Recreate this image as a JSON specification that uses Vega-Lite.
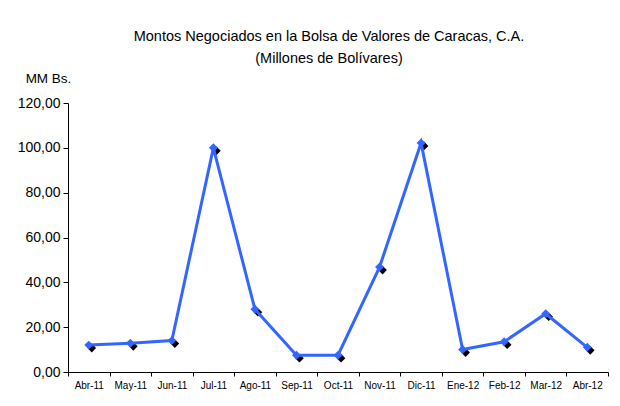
{
  "$schema": "https://vega.github.io/schema/vega-lite/v6.json",
  "width": 540,
  "height": 269,
  "autosize": {"type": "none"},
  "padding": {"left": 68, "top": 103, "right": 12, "bottom": 34},
  "background": "white",
  "config": {
    "font": "Liberation Sans",
    "view": {"stroke": null},
    "axis": {"domainColor": "black", "tickColor": "black", "labelColor": "black", "titleColor": "black", "grid": false}
  },
  "title": {
    "text": ["Montos Negociados en la Bolsa de Valores de Caracas, C.A.", "(Millones de Bolívares)"],
    "anchor": "middle",
    "fontSize": 14.5,
    "fontWeight": "normal",
    "color": "black",
    "lineHeight": 22,
    "dx": -9,
    "offset": 5
  },
  "data": {
    "values": [
      {"mes": "Abr-11", "monto": 12.0},
      {"mes": "May-11", "monto": 12.8},
      {"mes": "Jun-11", "monto": 14.0},
      {"mes": "Jul-11", "monto": 100.0},
      {"mes": "Ago-11", "monto": 28.0},
      {"mes": "Sep-11", "monto": 7.5},
      {"mes": "Oct-11", "monto": 7.5},
      {"mes": "Nov-11", "monto": 46.8},
      {"mes": "Dic-11", "monto": 102.2},
      {"mes": "Ene-12", "monto": 10.0},
      {"mes": "Feb-12", "monto": 13.5},
      {"mes": "Mar-12", "monto": 26.0},
      {"mes": "Abr-12", "monto": 11.0}
    ]
  },
  "encoding": {
    "x": {
      "field": "mes", "type": "ordinal", "sort": null,
      "scale": {"type": "band", "paddingInner": 0, "paddingOuter": 0},
      "axis": {"title": null, "labelAngle": 0, "tickBand": "extent", "tickSize": 4, "labelPadding": 4, "labelFontSize": 10, "domainWidth": 1}
    },
    "y": {
      "field": "monto", "type": "quantitative",
      "scale": {"domain": [0, 120], "nice": false},
      "axis": {
        "values": [0, 20, 40, 60, 80, 100, 120],
        "labelExpr": "replace(format(datum.value, '.2f'), '.', ',')",
        "labelFontSize": 14, "tickSize": 5, "labelPadding": 3,
        "title": "MM Bs.", "titleAngle": 0, "titleFontSize": 13.5, "titleFontWeight": "normal",
        "titleX": -20, "titleY": -25, "titleAlign": "center", "titleBaseline": "middle"
      }
    }
  },
  "layer": [
    {"mark": {"type": "point", "shape": "diamond", "filled": true, "color": "black", "opacity": 1, "size": 75, "xOffset": 3, "yOffset": 3}},
    {"mark": {"type": "line", "color": "#3366FF", "strokeWidth": 3}},
    {"mark": {"type": "point", "shape": "diamond", "filled": true, "color": "#3366FF", "opacity": 1, "size": 80}}
  ]
}
